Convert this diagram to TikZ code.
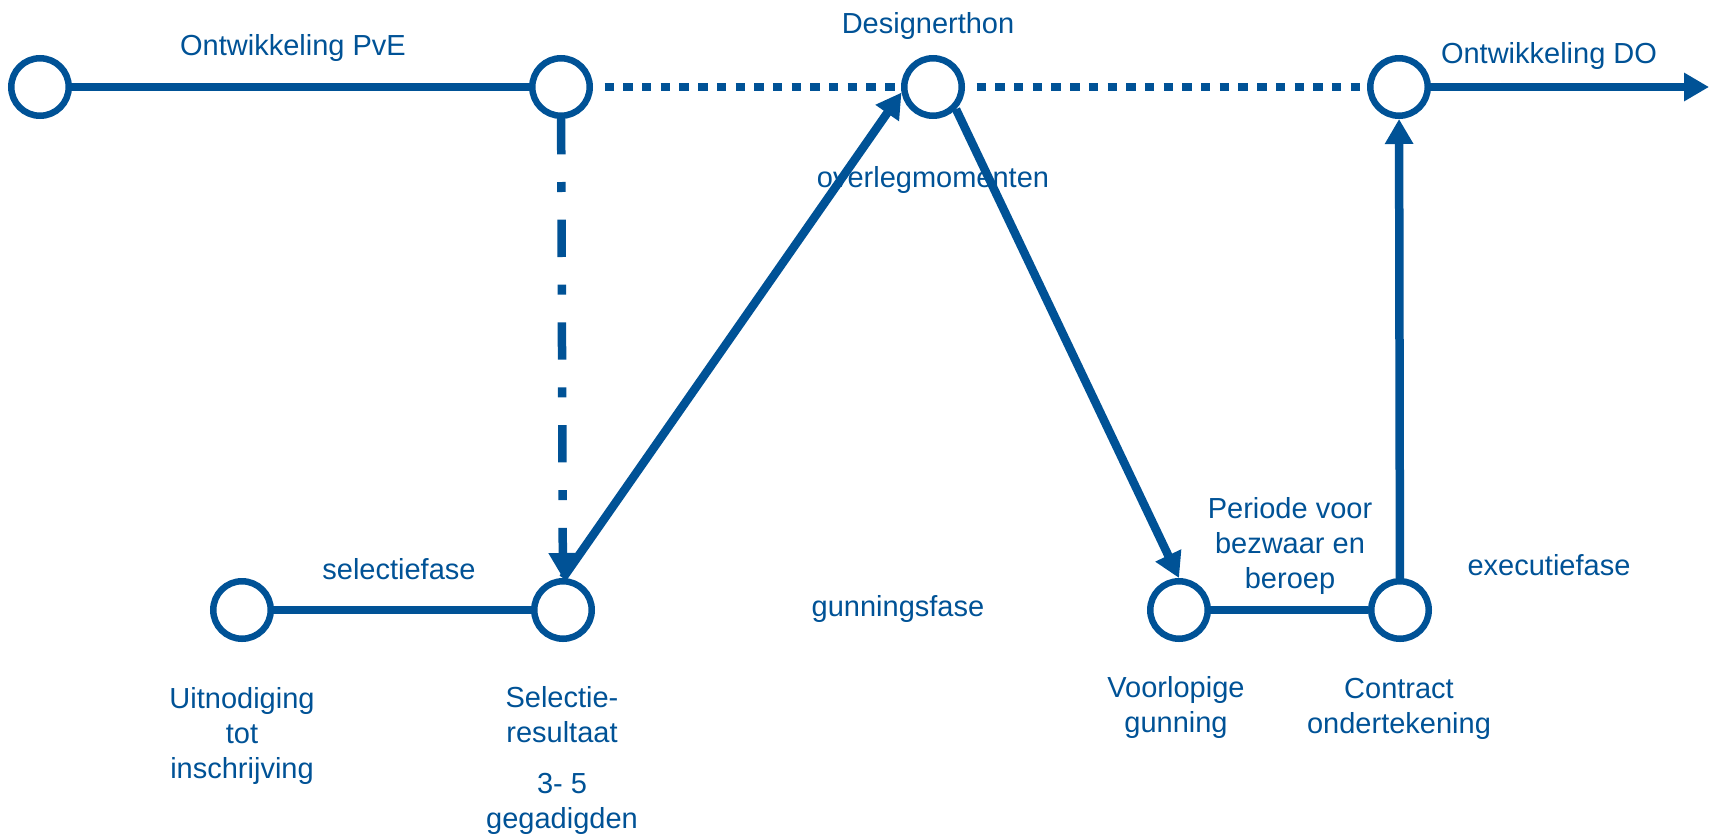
\documentclass[tikz,border=0pt]{standalone}
\usepackage{fontspec}
\setmainfont{Liberation Sans}
\usetikzlibrary{arrows.meta}
\definecolor{dblue}{RGB}{0,82,150}
\begin{document}
\begin{tikzpicture}[x=1pt,y=-1pt,
  stage/.style={circle,draw=dblue,fill=white,line width=6.5pt,minimum size=57.5pt,inner sep=0pt},
  link/.style={draw=dblue,line width=8.5pt},
  arrowend/.style={-{Triangle[length=25pt,width=27pt]}},
  dotline/.style={link,dash pattern=on 9.4pt off 9.3pt,dash phase=9.4pt,shorten <=2.3pt},
  dashdot/.style={link,dash pattern=on 37.3pt off 27.7pt on 10pt off 27.7pt,dash phase=2pt},
  lbl/.style={text=dblue,font=\fontsize{29}{35}\selectfont,align=center,inner sep=0pt,anchor=base}]
\useasboundingbox (0,0) rectangle (1713,836);
% labels
\node[lbl] (tPvE) at (293,55) {Ontwikkeling PvE};
\node[lbl] (tDes) at (928,33) {Designerthon};
\node[lbl] (tDO) at (1549,63) {Ontwikkeling DO};
\node[lbl] (tOverleg) at (933,187) {overlegmomenten};
\node[lbl] (tSel) at (399,579) {selectiefase};
\node[lbl] (tGun) at (898,616) {gunningsfase};
\node[lbl] (tPer) at (1290,588) {Periode voor\\bezwaar en\\beroep};
\node[lbl] (tExe) at (1549,575) {executiefase};
\node[lbl] (tUit) at (242,778) {Uitnodiging\\tot\\inschrijving};
\node[lbl] (tRes) at (562,742) {Selectie-\\resultaat};
\node[lbl] (tGeg) at (562,828) {3- 5\\gegadigden};
\node[lbl] (tVoor) at (1176,732) {Voorlopige\\gunning};
\node[lbl] (tCon) at (1399,733) {Contract\\ondertekening};
% stages
\node[stage] (A) at (40,87) {};
\node[stage] (B) at (561,87) {};
\node[stage] (C) at (933,87) {};
\node[stage] (D) at (1399,87) {};
\node[stage] (E) at (242,610) {};
\node[stage] (F) at (563,610) {};
\node[stage] (G) at (1179,610) {};
\node[stage] (H) at (1400,610) {};
\coordinate (Dend) at (1709,87);
% connectors
\draw[link] (A) -- (B);
\draw[dotline] (B) -- (C);
\draw[dotline] (C) -- (D);
\draw[link,arrowend] (D) -- (Dend);
\draw[dashdot,arrowend] (B) -- (F);
\draw[link,arrowend] (F.north) -- (C.190);
\draw[link,arrowend] (C.-44) -- (G.north);
\draw[link] (E) -- (F);
\draw[link] (G) -- (H);
\draw[link,arrowend] (H) -- (D);
\end{tikzpicture}
\end{document}
